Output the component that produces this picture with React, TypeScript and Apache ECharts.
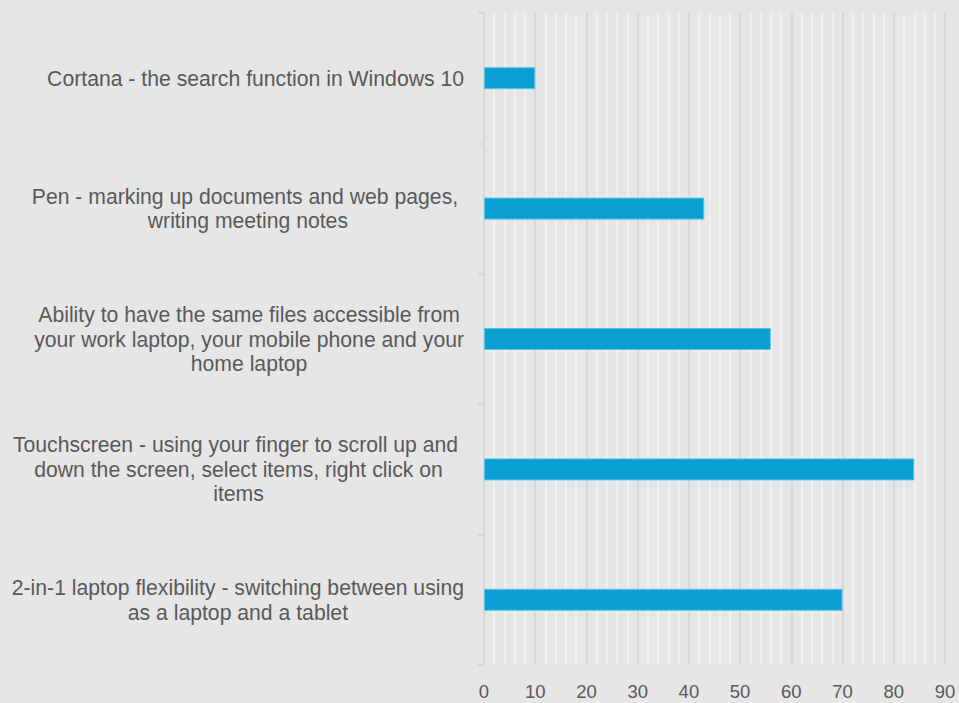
import React, { useEffect, useRef } from "react";
import * as echarts from "echarts";

const categories = [
  "Cortana - the search function in Windows 10",
  "Pen - marking up documents and web pages, \nwriting meeting notes",
  "Ability to have the same files accessible from\nyour work laptop, your mobile phone and your\nhome laptop",
  "Touchscreen - using your finger to scroll up and \ndown the screen, select items, right click on\nitems",
  "2-in-1 laptop flexibility - switching between using\nas a laptop and a tablet",
];
const values = [10, 43, 56, 84, 70];
const xTicks = { min: 0, max: 90, interval: 10 };

export default function App() {
  const ref = useRef<HTMLDivElement>(null);
  useEffect(() => {
    const chart = echarts.init(ref.current!, null, { renderer: "svg" });
    chart.setOption({
      animation: false,
      backgroundColor: "#e6e6e6",
      grid: { left: 484, right: 14, top: 13, bottom: 38, containLabel: false },
      xAxis: {
        type: "value",
        min: xTicks.min,
        max: xTicks.max,
        interval: xTicks.interval,
        axisLine: { show: false },
        axisTick: { show: false },
        axisLabel: { color: "#595959", fontSize: 18.5, fontFamily: "Liberation Sans", margin: 17 },
        splitLine: { show: true, lineStyle: { color: "#d8d8d8", width: 2 } },
        minorTick: { show: false, splitNumber: 5 },
        minorSplitLine: { show: true, lineStyle: { color: "#f0f0f0", width: 2 } },
      },
      yAxis: {
        type: "category",
        inverse: true,
        data: categories,
        axisLine: { show: true, lineStyle: { color: "#d8d8d8", width: 2 } },
        axisTick: { show: true, length: 6, lineStyle: { color: "#d8d8d8", width: 2 } },
        axisLabel: {
          color: "#595959",
          fontSize: 21.2,
          fontFamily: "Liberation Sans",
          align: "right",
          margin: 20,
          lineHeight: 24.5,
          formatter: (v: string) =>
            v
              .split("\n")
              .map((l) => "{c|" + l + "}")
              .join("\n"),
          rich: {
            c: {
              align: "center",
              color: "#595959",
              fontSize: 21.2,
              fontFamily: "Liberation Sans",
              lineHeight: 24.5,
            },
          },
        },
        splitLine: { show: false },
      },
      series: [
        {
          type: "bar",
          data: values,
          barWidth: 22,
          itemStyle: { color: "#0a9fd2", borderColor: "#5cc3e6", borderWidth: 1 },
        },
      ],
    });
    return () => chart.dispose();
  }, []);
  return (
    <div
      ref={ref}
      style={{ position: "fixed", left: 0, top: 0, width: 959, height: 703 }}
    />
  );
}
